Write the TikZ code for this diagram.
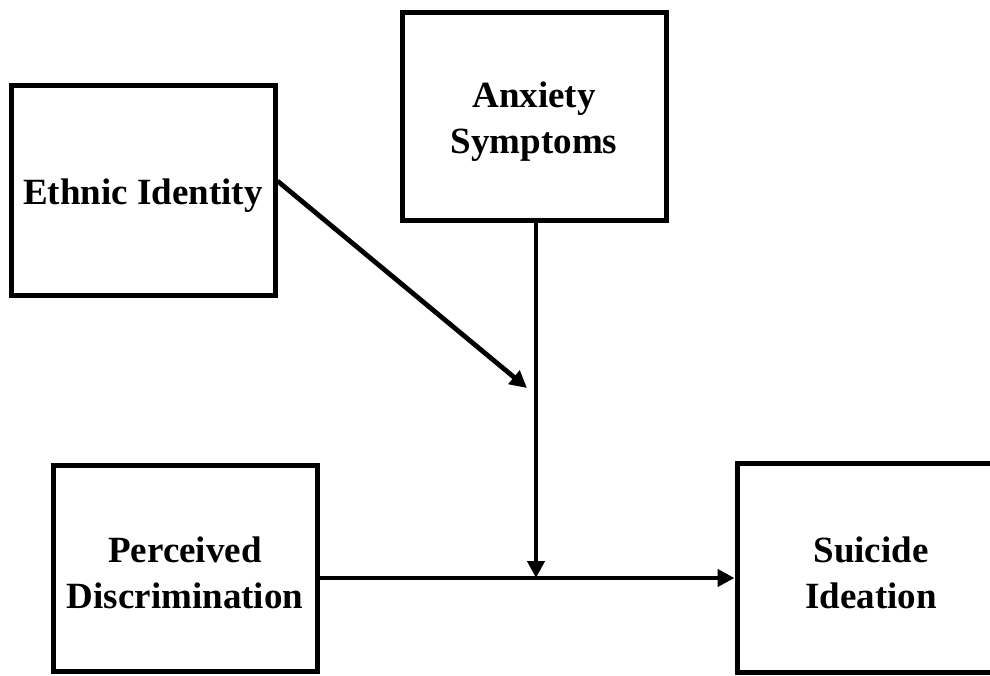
\documentclass[tikz,border=0pt]{standalone}
\usepackage{fontspec}
\setmainfont{Liberation Serif}
\usetikzlibrary{arrows.meta}
\newcommand{\topstrut}{\rule{0pt}{36pt}}
\tikzset{
  varbox/.style={draw, line width=5pt, align=center, inner sep=0pt,
    font=\bfseries\fontsize{37}{46}\selectfont},
  arr/.style={line width=4.8pt, -{Triangle[length=17pt,width=17pt]}},
}
\begin{document}
\begin{tikzpicture}[x=1pt,y=-1pt]
\useasboundingbox (0,0) rectangle (990,675);
\node[varbox, minimum width=264pt, minimum height=210pt] (eth) at (143,190) {\topstrut Ethnic Identity};
\node[varbox, minimum width=264pt, minimum height=208pt] (anx) at (534,116) {\topstrut Anxiety\\Symptoms};
\node[varbox, minimum width=264pt, minimum height=206pt] (per) at (185,568) {\topstrut Perceived\\Discrimination};
\node[varbox, minimum width=268pt, minimum height=209pt] (sui) at (871,567.5) {\topstrut Suicide\\Ideation};
\coordinate (mod) at (527,388);
\coordinate (mid) at (536,578);
\draw[arr] ([yshift=9pt]eth.east) -- (mod);
\draw[arr] (anx.south -| mid) -- (mid);
\draw[arr] (per.east |- mid) -- (sui.west |- mid);
\end{tikzpicture}
\end{document}
